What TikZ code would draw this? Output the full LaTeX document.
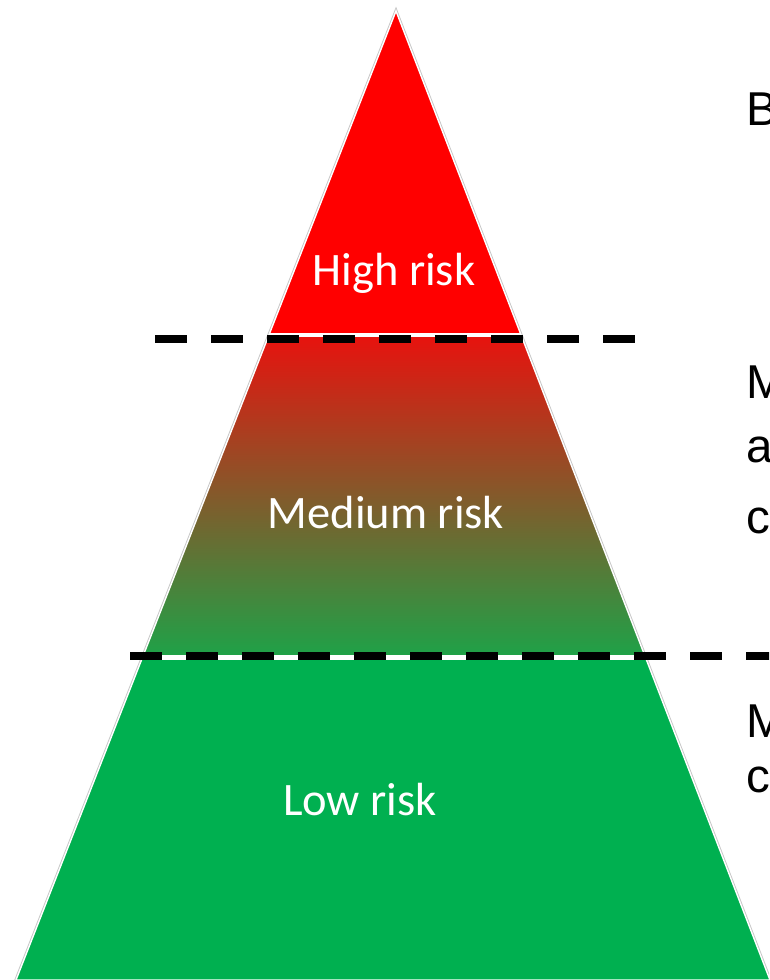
\documentclass[tikz,border=0pt]{standalone}
\usepackage{fontspec}
\setmainfont{Liberation Sans}
\newfontfamily\calib{Carlito}
\definecolor{riskred}{RGB}{255,0,0}
\definecolor{riskgreen}{RGB}{0,176,80}
\definecolor{midtop}{RGB}{232,18,14}
\definecolor{midbot}{RGB}{30,162,72}
\begin{document}
\begin{tikzpicture}[x=1pt,y=-1pt,
  bandlabel/.style={text=white,font=\calib\fontsize{46.5}{50}\selectfont,inner sep=0,anchor=base},
  sidetext/.style={text=black,font=\fontsize{47.5}{52}\selectfont,inner sep=0,anchor=base west},
  sepline/.style={black,line width=8pt,dash pattern=on 32pt off 24pt},
  whiteline/.style={white,line width=4pt}]
\useasboundingbox (0,0) rectangle (769,980);
\clip (0,0) rectangle (769,980);
\coordinate (apex) at (396,11);
\coordinate (bl) at (16,980);
\coordinate (br) at (770,980);
% outline shadow
\draw[gray!45,line width=3.2pt,line join=miter] (apex) -- (bl) -- (br) -- cycle;
\begin{scope}
  \clip (apex) -- (bl) -- (br) -- cycle;
  \fill[riskred] (0,0) rectangle (769,335);
  \shade[top color=midtop,bottom color=midbot] (0,335) rectangle (769,657);
  \fill[riskgreen] (0,657) rectangle (769,985);
  \draw[whiteline] (0,335) -- (769,335);
  \draw[whiteline,line width=5pt] (0,657) -- (769,657);
\end{scope}
\draw[white,line width=1.4pt,line join=miter] (apex) -- (bl) -- (br) -- cycle;
% dashed separators
\coordinate (s1a) at (155,339);
\coordinate (s1b) at (635,339);
\coordinate (s2a) at (130,656);
\coordinate (s2b) at (800,656);
\draw[sepline] (s1a) -- (s1b);
\draw[sepline] (s2a) -- (s2b);
% band labels
\node[bandlabel] (high) at (394,285) {High risk};
\node[bandlabel] (medium) at (386,528) {Medium risk};
\node[bandlabel] (low) at (360,815) {Low risk};
% side texts (cut off at the right edge)
\node[sidetext] (t1) at (746,125) {B};
\node[sidetext] (t2a) at (746,398) {M};
\node[sidetext] (t2b) at (746,462) {a};
\node[sidetext] (t2c) at (746,533) {c};
\node[sidetext] (t3a) at (746,737) {M};
\node[sidetext] (t3b) at (746,792) {c};
\end{tikzpicture}
\end{document}
